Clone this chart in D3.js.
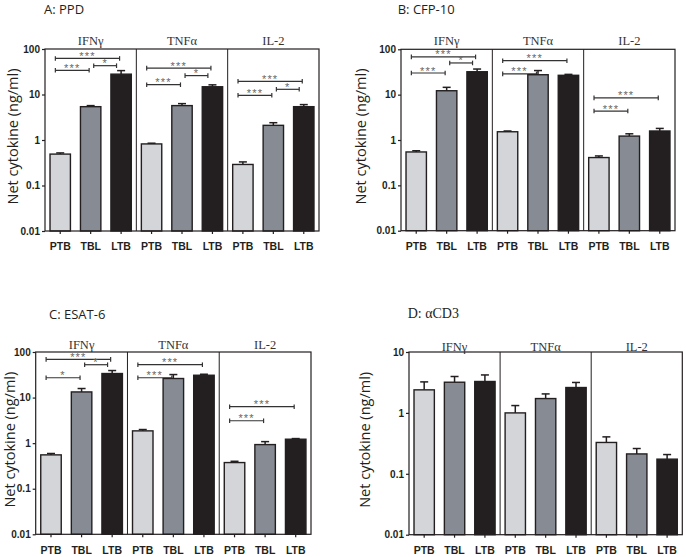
<!DOCTYPE html>
<html><head><meta charset="utf-8">
<script src="https://cdn.jsdelivr.net/npm/d3@7"></script>
<style>body{margin:0;background:#fff} svg{display:block}</style>
</head><body><svg id="c" width="686" height="557"></svg>
<script>
// ---------- data ----------
const groups = ["IFNγ", "TNFα", "IL-2"];
const cells = ["PTB", "TBL", "LTB"];
const tickVals = [0.01, 0.1, 1, 10, 100];
const tickLabels = ["0.01", "0.1", "1", "10", "100"];
const tickValsD = [0.01, 0.1, 1, 10];
const tickLabelsD = ["0.01", "0.1", "1", "10"];

// means [group][cell], SEM [group][cell]
const ppdMean = [[0.49, 5.4, 28], [0.82, 5.7, 14.8], [0.29, 2.1, 5.4]];
const ppdSem  = [[0.03, 0.3, 5.5], [0.03, 0.6, 1.5], [0.04, 0.3, 0.6]];
const cfpMean = [[0.545, 12.2, 32], [1.52, 27.5, 26.7], [0.41, 1.22, 1.58]];
const cfpSem  = [[0.035, 2.3, 4.7], [0.06, 6.5, 1.3], [0.035, 0.15, 0.22]];
const esatMean = [[0.553, 13.3, 33.7], [1.86, 26.2, 30.9], [0.375, 0.93, 1.22]];
const esatSem  = [[0.04, 2.5, 5.5], [0.13, 5.8, 1.6], [0.025, 0.15, 0.04]];
const cd3Mean = [[2.39, 3.19, 3.28], [1.0, 1.72, 2.61], [0.327, 0.212, 0.174]];
const cd3Sem  = [[0.84, 0.77, 0.92], [0.32, 0.33, 0.55], [0.077, 0.048, 0.033]];

// significance: [group, fromCell, toCell, label, level (ng/ml)]
const ppdSig = [[0,0,2,"***",62],[0,1,2,"*",43],[0,0,1,"***",34],
                [1,0,2,"***",38],[1,1,2,"*",26],[1,0,1,"***",16.4],
                [2,0,2,"***",19.5],[2,1,2,"*",13],[2,0,1,"***",9.6]];
const cfpSig = [[0,0,2,"***",68],[0,1,2,"*",50],[0,0,1,"***",30],
                [1,0,2,"***",56],[1,0,1,"***",28.7],
                [2,0,2,"***",8.5],[2,0,1,"***",4.35]];
const esatSig = [[0,0,2,"***",69],[0,1,2,"*",52.6],[0,0,1,"*",27.2],
                 [1,0,2,"***",52.6],[1,0,1,"***",27.2],
                 [2,0,2,"***",6.3],[2,0,1,"***",3.1]];
const cd3Sig = [];

const fills = ["#d3d5d9", "#878c94", "#231f20"];
const ink = "#231f20";

const svg = d3.select("#c");

function drawPanel(cfg, mean, sem, sig, tv, tl) {
  const g = svg.append("g");
  const y = d3.scaleLog().domain([tv[0], tv[tv.length - 1]]).range([cfg.bottom, cfg.top]);
  const xg = d3.scaleBand().domain(groups).range([cfg.left, cfg.right]);
  const xc = d3.scaleBand().domain(cells).range([0, xg.bandwidth()])
    .paddingInner(0.33).paddingOuter(0.165);
  const cx = (gi, ci) => xg(groups[gi]) + xc(cells[ci]) + xc.bandwidth() / 2;
  const step = xc.step();

  // significance brackets (behind bars)
  sig.forEach(([gi, a, b, lab, v]) => {
    let x1, x2;
    if (a === 0) { x1 = cx(gi, a) - 0.16 * step; x2 = cx(gi, b) - 0.05 * step; }
    else { x1 = cx(gi, a) + 0.1 * step; x2 = cx(gi, b) - 0.15 * step; }
    const yy = y(v);
    const bg = g.append("g").attr("stroke", "#333").attr("stroke-width", 1.2);
    bg.append("line").attr("x1", x1).attr("x2", x2).attr("y1", yy).attr("y2", yy);
    bg.append("line").attr("x1", x1).attr("x2", x1).attr("y1", yy - 2.3).attr("y2", yy + 2.3);
    bg.append("line").attr("x1", x2).attr("x2", x2).attr("y1", yy - 2.3).attr("y2", yy + 2.3);
    g.append("text").attr("x", (x1 + x2) / 2).attr("y", yy + 1.5)
      .attr("text-anchor", "middle").attr("font-family", "Liberation Sans, Arial, sans-serif")
      .attr("font-size", 11).attr("letter-spacing", 1.2).attr("fill", "#666").text(lab);
  });

  // bars
  const flat = [];
  mean.forEach((row, gi) => row.forEach((m, ci) => flat.push({gi, ci, m, s: sem[gi][ci]})));
  g.selectAll("rect.bar").data(flat).enter().append("rect").attr("class", "bar")
    .attr("x", d => xg(groups[d.gi]) + xc(cells[d.ci]))
    .attr("width", xc.bandwidth())
    .attr("y", d => y(d.m))
    .attr("height", d => cfg.bottom - y(d.m))
    .attr("fill", d => fills[d.ci]).attr("stroke", ink).attr("stroke-width", 1.4);

  // error bars (upper)
  const eg = g.append("g").attr("stroke", ink).attr("stroke-width", 1.5);
  flat.forEach(d => {
    const x = cx(d.gi, d.ci);
    eg.append("line").attr("x1", x).attr("x2", x).attr("y1", y(d.m)).attr("y2", y(d.m + d.s));
    eg.append("line").attr("x1", x - 4).attr("x2", x + 4).attr("y1", y(d.m + d.s)).attr("y2", y(d.m + d.s));
  });

  // frame + dividers
  g.append("rect").attr("x", cfg.left).attr("y", cfg.top)
    .attr("width", cfg.right - cfg.left).attr("height", cfg.bottom - cfg.top)
    .attr("fill", "none").attr("stroke", ink).attr("stroke-width", 1.2);
  groups.slice(1).forEach(gr => {
    g.append("line").attr("x1", xg(gr)).attr("x2", xg(gr))
      .attr("y1", cfg.top).attr("y2", cfg.bottom).attr("stroke", ink).attr("stroke-width", 1);
  });

  // y axis
  const ya = g.append("g").attr("transform", `translate(${cfg.left},0)`)
    .call(d3.axisLeft(y).tickValues(tv).tickFormat((d, i) => tl[i]).tickSize(3).tickPadding(2));
  ya.select(".domain").remove();
  ya.selectAll("line").attr("stroke", ink).attr("stroke-width", 1.2);
  ya.selectAll("text").attr("font-family", "Liberation Sans, Arial, sans-serif")
    .attr("font-weight", "bold").attr("font-size", 10).attr("fill", ink);

  // x axes (one per group)
  groups.forEach(gr => {
    const xa = g.append("g").attr("transform", `translate(${xg(gr)},${cfg.bottom})`)
      .call(d3.axisBottom(xc).tickSize(3).tickPadding(9));
    xa.select(".domain").remove();
    xa.selectAll("line").attr("stroke", ink).attr("stroke-width", 1.2);
    xa.selectAll("text").attr("font-family", "Liberation Sans, Arial, sans-serif")
      .attr("font-weight", "bold").attr("font-size", 10.5).attr("fill", ink);
  });

  // group titles
  groups.forEach(gr => {
    g.append("text").attr("x", xg(gr) + xg.bandwidth() / 2).attr("y", cfg.top - cfg.gtGap)
      .attr("text-anchor", "middle").attr("font-family", "Liberation Serif, Times New Roman, serif")
      .attr("font-size", 12.5).attr("fill", "#333").text(gr);
  });

  // panel title
  g.append("text").attr("x", cfg.titleX).attr("y", cfg.titleY)
    .attr("font-family", cfg.titleSerif ? "Liberation Serif, serif" : "Open Sans, sans-serif")
    .attr("font-size", cfg.titleSerif ? 14 : 13).attr("fill", ink).text(cfg.title);

  // y label
  const ly = (cfg.top + cfg.bottom) / 2 - 3.5;
  g.append("text").attr("transform", `translate(${cfg.ylabX},${ly}) rotate(-90)`)
    .attr("text-anchor", "middle").attr("font-family", "Open Sans, sans-serif")
    .attr("font-size", 14.5).attr("fill", ink).text("Net cytokine (ng/ml)");
}

drawPanel({left: 45, right: 319, top: 49, bottom: 231, gtGap: 4, title: "A: PPD", titleX: 44, titleY: 14, ylabX: 17.5},
  ppdMean, ppdSem, ppdSig, tickVals, tickLabels);
drawPanel({left: 401, right: 675, top: 49.3, bottom: 230.7, gtGap: 4, title: "B: CFP-10", titleX: 397.7, titleY: 14, ylabX: 365.5},
  cfpMean, cfpSem, cfpSig, tickVals, tickLabels);
drawPanel({left: 35.7, right: 311, top: 352, bottom: 534.3, gtGap: 3, title: "C: ESAT-6", titleX: 49, titleY: 319, ylabX: 14.5},
  esatMean, esatSem, esatSig, tickVals, tickLabels);
drawPanel({left: 409, right: 682.3, top: 352, bottom: 534.7, gtGap: 1.5, title: "D: αCD3", titleX: 407.7, titleY: 317.7, titleSerif: true, ylabX: 370},
  cd3Mean, cd3Sem, cd3Sig, tickValsD, tickLabelsD);
</script></body></html>
